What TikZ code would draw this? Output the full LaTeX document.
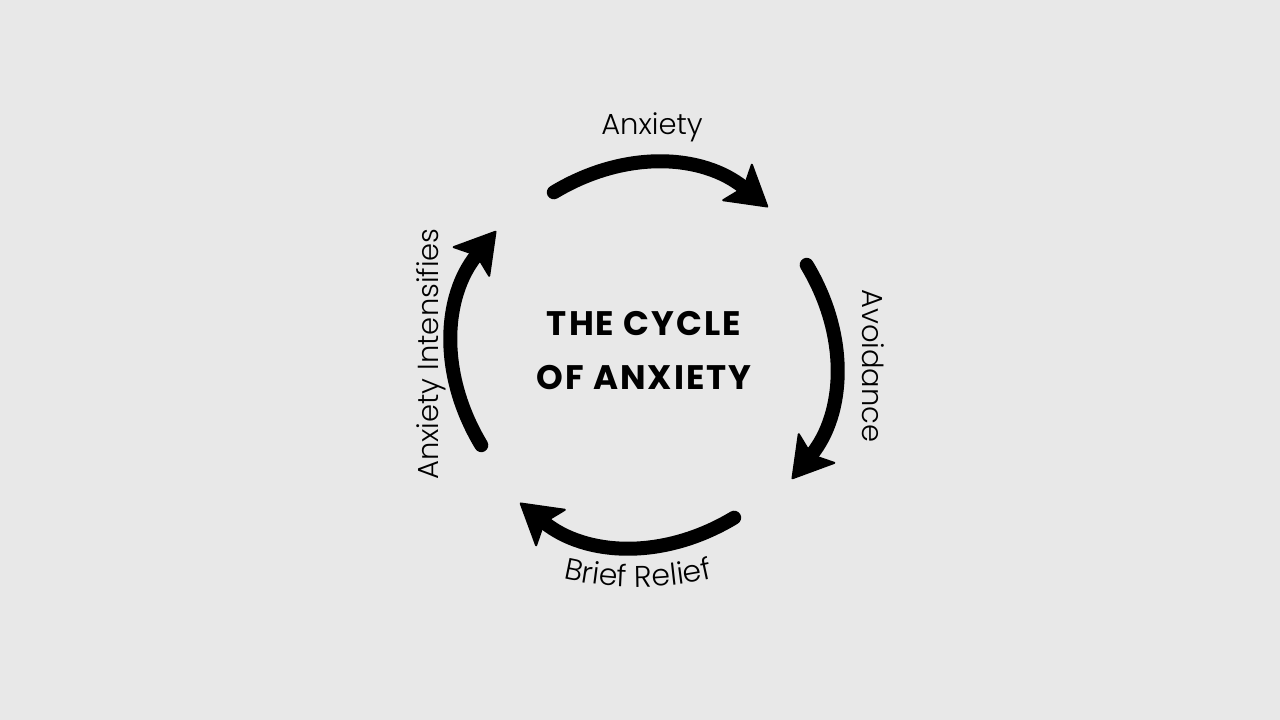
\documentclass[tikz,border=0pt]{standalone}
\usepackage{fontspec}
\setmainfont{Poppins}
\newfontfamily\labelfont{Poppins}[UprightFont={* Light}]
\newfontfamily\titlefont{Poppins}[LetterSpace=6]
\usetikzlibrary{arrows.meta,decorations.text}
\definecolor{bgcol}{RGB}{232,232,232}
\tikzset{
  cyclearrow/.style={line width=14pt, line cap=round,
    -{Stealth[length=42pt,width=50pt,inset=9pt,line width=2pt,round]}},
  titletext/.style={font=\titlefont\bfseries\fontsize{34}{54}\selectfont, align=center},
  steplabel/.style={font=\labelfont\fontsize{29}{34}\selectfont, inner sep=0pt},
  arclabel/.style={decorate, decoration={text along path, text align=center,
    text={|\labelfont\fontsize{30}{34}\selectfont|#1}}}
}
\begin{document}
\begin{tikzpicture}[x=1pt, y=1pt]
  % Background
  \fill[bgcol] (-644,-365) rectangle (636,355);
  % Title
  \node[titletext] (title) at (0,4) {THE CYCLE\\OF ANXIETY};
  % Four arrows round the circle
  \foreach \k in {0,...,3}{
    \coordinate (tail\k) at ({119-90*\k}:186);
    \coordinate (tip\k) at ({50-90*\k}:193);
    \draw[cyclearrow] (tail\k) to[bend left=35] (tip\k);
  }
  % Labels
  \node[steplabel] (anxiety) at (8,228) {Anxiety};
  \node[steplabel, rotate=-90] (avoidance) at (229,-11) {Avoidance};
  \node[steplabel, rotate=90] (intensifies) at (-213,1) {Anxiety Intensifies};
  % Brief Relief bends along the bottom
  \path[arclabel=Brief Relief] (-6,98) ++(-118:330) arc[start angle=-118, end angle=-62, radius=330];
\end{tikzpicture}
\end{document}
